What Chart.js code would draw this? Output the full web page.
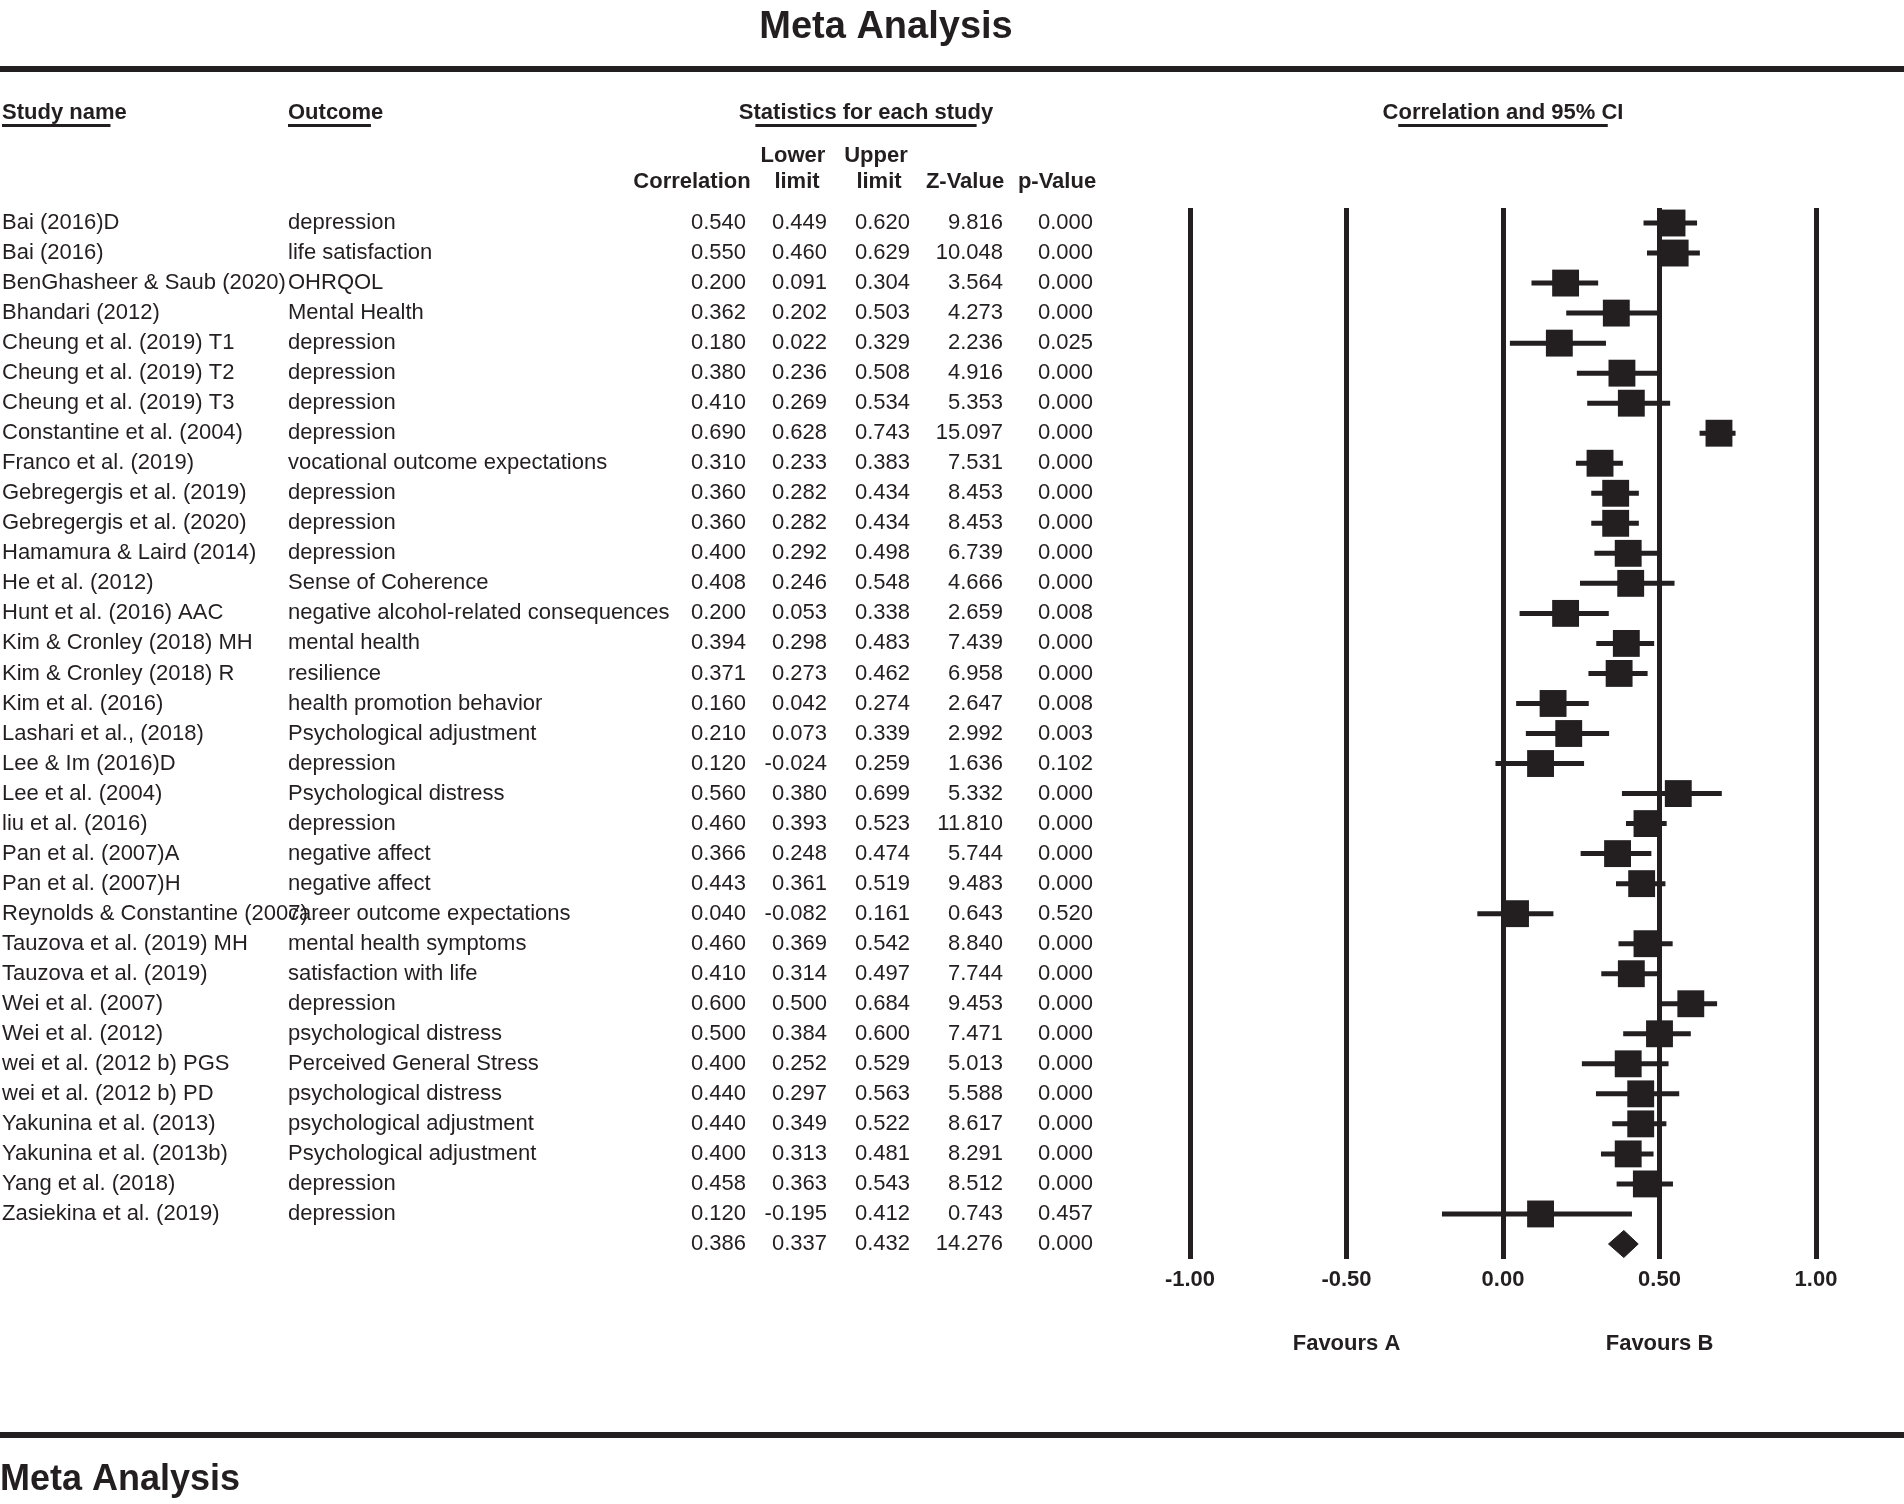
<!DOCTYPE html>
<html>
<head>
<meta charset="utf-8">
<title>Meta Analysis</title>
<script src="https://cdn.jsdelivr.net/npm/chart.js"></script>
<style>
  html, body { margin: 0; padding: 0; background: #fff; }
  #wrap { width: 1904px; height: 1504px; }
</style>
</head>
<body>
<div id="wrap"><canvas id="chart" width="1904" height="1504"></canvas></div>
<script>
// forest plot - correlation and 95% CI per study

const studyNames = [
  "Bai (2016)D", "Bai (2016)", "BenGhasheer & Saub (2020)", "Bhandari (2012)",
  "Cheung et al. (2019) T1", "Cheung et al. (2019) T2", "Cheung et al. (2019) T3",
  "Constantine et al. (2004)", "Franco et al. (2019)", "Gebregergis et al. (2019)",
  "Gebregergis et al. (2020)", "Hamamura & Laird (2014)", "He et al. (2012)",
  "Hunt et al. (2016) AAC", "Kim & Cronley (2018) MH", "Kim & Cronley (2018) R",
  "Kim et al. (2016)", "Lashari et al., (2018)", "Lee & Im (2016)D", "Lee et al. (2004)",
  "liu et al. (2016)", "Pan et al. (2007)A", "Pan et al. (2007)H",
  "Reynolds & Constantine (2007)", "Tauzova et al. (2019) MH", "Tauzova et al. (2019)",
  "Wei et al. (2007)", "Wei et al. (2012)", "wei et al. (2012 b) PGS",
  "wei et al. (2012 b) PD", "Yakunina et al. (2013)", "Yakunina et al. (2013b)",
  "Yang et al. (2018)", "Zasiekina et al. (2019)"
];
const outcomes = [
  "depression", "life satisfaction", "OHRQOL", "Mental Health",
  "depression", "depression", "depression",
  "depression", "vocational outcome expectations", "depression",
  "depression", "depression", "Sense of Coherence",
  "negative alcohol-related consequences", "mental health", "resilience",
  "health promotion behavior", "Psychological adjustment", "depression", "Psychological distress",
  "depression", "negative affect", "negative affect",
  "career outcome expectations", "mental health symptoms", "satisfaction with life",
  "depression", "psychological distress", "Perceived General Stress",
  "psychological distress", "psychological adjustment", "Psychological adjustment",
  "depression", "depression"
];
const correlation = [0.540, 0.550, 0.200, 0.362, 0.180, 0.380, 0.410, 0.690, 0.310, 0.360,
  0.360, 0.400, 0.408, 0.200, 0.394, 0.371, 0.160, 0.210, 0.120, 0.560,
  0.460, 0.366, 0.443, 0.040, 0.460, 0.410, 0.600, 0.500, 0.400, 0.440,
  0.440, 0.400, 0.458, 0.120];
const lowerLimit = [0.449, 0.460, 0.091, 0.202, 0.022, 0.236, 0.269, 0.628, 0.233, 0.282,
  0.282, 0.292, 0.246, 0.053, 0.298, 0.273, 0.042, 0.073, -0.024, 0.380,
  0.393, 0.248, 0.361, -0.082, 0.369, 0.314, 0.500, 0.384, 0.252, 0.297,
  0.349, 0.313, 0.363, -0.195];
const upperLimit = [0.620, 0.629, 0.304, 0.503, 0.329, 0.508, 0.534, 0.743, 0.383, 0.434,
  0.434, 0.498, 0.548, 0.338, 0.483, 0.462, 0.274, 0.339, 0.259, 0.699,
  0.523, 0.474, 0.519, 0.161, 0.542, 0.497, 0.684, 0.600, 0.529, 0.563,
  0.522, 0.481, 0.543, 0.412];
const zValue = [9.816, 10.048, 3.564, 4.273, 2.236, 4.916, 5.353, 15.097, 7.531, 8.453,
  8.453, 6.739, 4.666, 2.659, 7.439, 6.958, 2.647, 2.992, 1.636, 5.332,
  11.810, 5.744, 9.483, 0.643, 8.840, 7.744, 9.453, 7.471, 5.013, 5.588,
  8.617, 8.291, 8.512, 0.743];
const pValue = [0.000, 0.000, 0.000, 0.000, 0.025, 0.000, 0.000, 0.000, 0.000, 0.000,
  0.000, 0.000, 0.000, 0.008, 0.000, 0.000, 0.008, 0.003, 0.102, 0.000,
  0.000, 0.000, 0.000, 0.520, 0.000, 0.000, 0.000, 0.000, 0.000, 0.000,
  0.000, 0.000, 0.000, 0.457];

// pooled row: correlation, lower, upper, z, p
const pooledStats = [0.386, 0.337, 0.432, 14.276, 0.000];

const xTicks = [-1, -0.5, 0, 0.5, 1];
const favourLabels = ["Favours A", "Favours B"];
const favourAt = [-0.5, 0.5];

const INK = "#231f20";
const FONT = '"Liberation Sans", Arial, sans-serif';
const pooledRow = studyNames.length;

const colRight = [746, 827, 910, 1003, 1093];

function underline(ctx, text, x, y, align) {
  const w = ctx.measureText(text).width;
  const len = w * 0.87;
  const x0 = align === "center" ? x - len / 2 : x;
  ctx.fillRect(x0, y, len, 3);
}

const tablePlugin = {
  id: "forestTable",
  afterDraw(chart) {
    const ctx = chart.ctx;
    const xs = chart.scales.x, ys = chart.scales.y;
    ctx.save();
    ctx.fillStyle = INK;

    // title and rules
    ctx.font = "bold 38px " + FONT;
    ctx.textAlign = "center";
    ctx.textBaseline = "middle";
    ctx.fillText("Meta Analysis", 886, 28);
    ctx.fillRect(0, 66, chart.width, 6);
    ctx.fillRect(0, 1432, chart.width, 6);
    ctx.textAlign = "left";
    ctx.font = "bold 36px " + FONT;
    ctx.fillText("Meta Analysis", 0, 1480);

    // column headers
    ctx.font = "bold 22px " + FONT;
    ctx.textAlign = "left";
    ctx.fillText("Study name", 2, 113);
    underline(ctx, "Study name", 2, 124, "left");
    ctx.fillText("Outcome", 288, 113);
    underline(ctx, "Outcome", 288, 124, "left");
    ctx.textAlign = "center";
    ctx.fillText("Statistics for each study", 866, 113);
    underline(ctx, "Statistics for each study", 866, 124, "center");
    const cx = xs.getPixelForValue(0);
    ctx.fillText("Correlation and 95% CI", cx, 113);
    underline(ctx, "Correlation and 95% CI", cx, 124, "center");

    ctx.fillText("Lower", 793, 156);
    ctx.fillText("Upper", 876, 156);
    ctx.fillText("Correlation", 692, 182);
    ctx.fillText("limit", 797, 182);
    ctx.fillText("limit", 879, 182);
    ctx.fillText("Z-Value", 965, 182);
    ctx.fillText("p-Value", 1057, 182);

    // study rows
    ctx.font = "22px " + FONT;
    studyNames.forEach((name, i) => {
      const py = ys.getPixelForValue(i);
      ctx.textAlign = "left";
      ctx.fillText(name, 2, py);
      ctx.fillText(outcomes[i], 288, py);
      ctx.textAlign = "right";
      const vals = [correlation[i], lowerLimit[i], upperLimit[i], zValue[i], pValue[i]];
      vals.forEach((v, c) => ctx.fillText(v.toFixed(3), colRight[c], py));
    });
    const py = ys.getPixelForValue(pooledRow);
    ctx.textAlign = "right";
    pooledStats.forEach((v, c) => ctx.fillText(v.toFixed(3), colRight[c], py));

    // favours labels
    ctx.font = "bold 22px " + FONT;
    ctx.textAlign = "center";
    favourLabels.forEach((lab, k) => ctx.fillText(lab, xs.getPixelForValue(favourAt[k]), 1344));

    ctx.restore();
  }
};

// CI whiskers, one small line per study
const ciSets = studyNames.map((n, i) => ({
  type: "line",
  data: [{ x: lowerLimit[i], y: i }, { x: upperLimit[i], y: i }],
  borderColor: INK,
  borderWidth: 5,
  borderCapStyle: "butt",
  pointRadius: 0,
  fill: false
}));

const DIAMOND_HALF = 0.45;
const diamondSet = {
  type: "line",
  data: [
    { x: pooledStats[1], y: pooledRow },
    { x: pooledStats[0], y: pooledRow - DIAMOND_HALF },
    { x: pooledStats[2], y: pooledRow },
    { x: pooledStats[0], y: pooledRow + DIAMOND_HALF },
    { x: pooledStats[1], y: pooledRow }
  ],
  borderColor: INK,
  backgroundColor: INK,
  borderWidth: 1,
  pointRadius: 0,
  fill: "shape"
};

const squareSet = {
  type: "scatter",
  data: correlation.map((r, i) => ({ x: r, y: i })),
  pointStyle: "rect",
  pointRadius: 19,
  backgroundColor: INK,
  borderColor: INK,
  borderWidth: 0
};

new Chart(document.getElementById("chart"), {
  type: "scatter",
  data: { datasets: [squareSet, diamondSet].concat(ciSets) },
  options: {
    responsive: false,
    animation: false,
    events: [],
    layout: { padding: { left: 1190, right: 88, top: 208, bottom: 205 } },
    plugins: { legend: { display: false }, tooltip: { enabled: false } },
    scales: {
      x: {
        type: "linear",
        min: -1,
        max: 1,
        afterBuildTicks: s => { s.ticks = xTicks.map(v => ({ value: v })); },
        afterFit: s => { s.height = 40; },
        border: { display: false },
        grid: { color: INK, lineWidth: 5, drawTicks: false },
        ticks: {
          color: INK,
          padding: 8,
          maxRotation: 0,
          font: { family: FONT, size: 22, weight: "bold" },
          callback: v => Number(v).toFixed(2)
        }
      },
      y: {
        type: "linear",
        min: -0.5,
        max: pooledRow + 0.5,
        reverse: true,
        display: false
      }
    }
  },
  plugins: [tablePlugin]
});
</script>
</body>
</html>
